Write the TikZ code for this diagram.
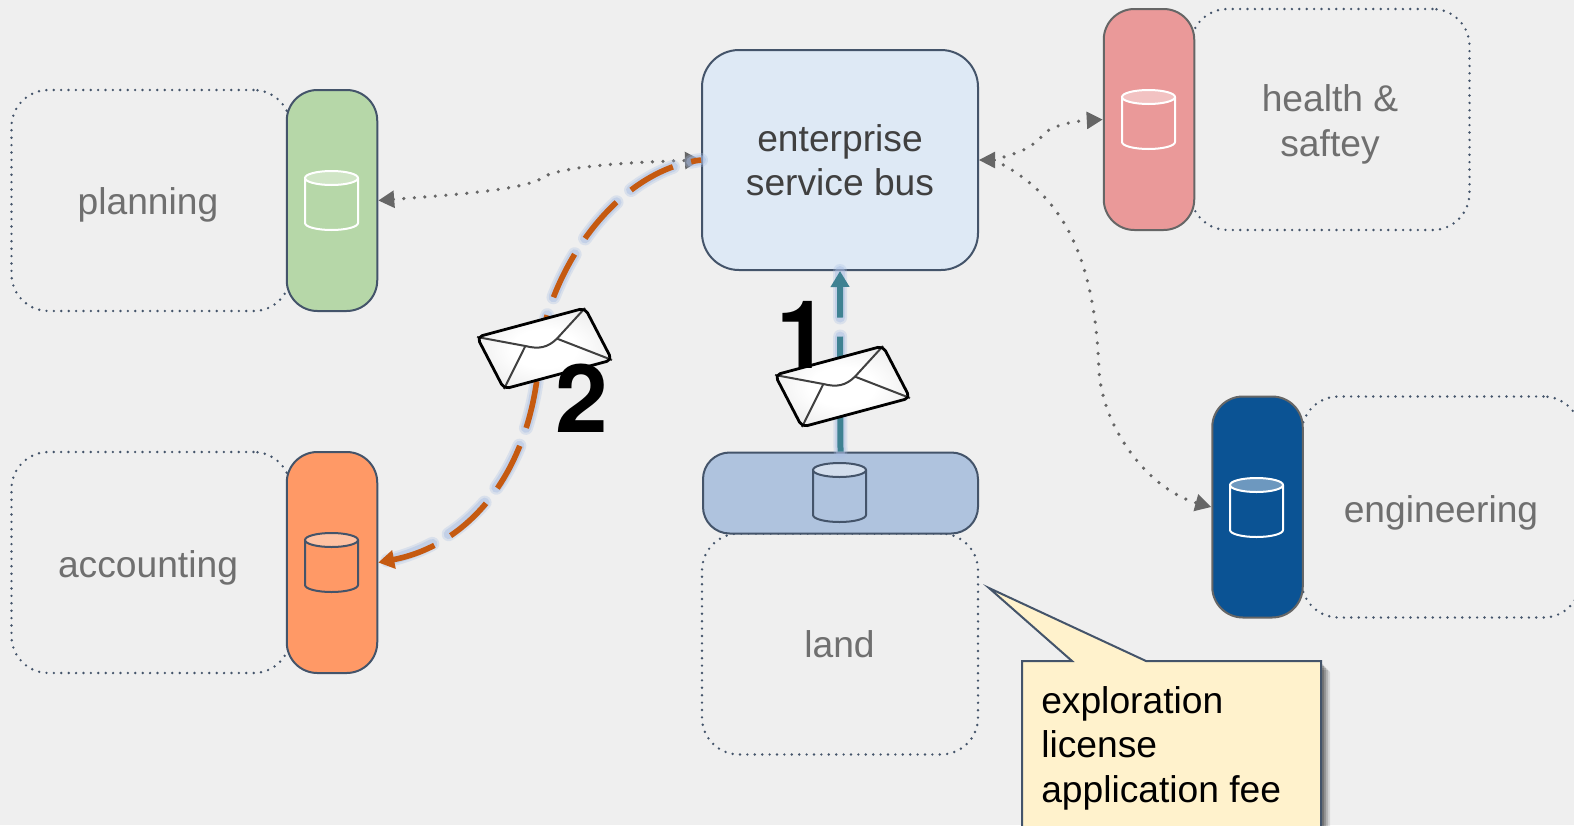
\documentclass[tikz,border=0pt]{standalone}
\usepackage{fontspec}
\setmainfont{Liberation Sans}
\newfontfamily\digitfont{TeX Gyre Heros}
\usetikzlibrary{arrows.meta,calc}
\definecolor{bgc}{HTML}{EFEFEF}
\definecolor{edgec}{HTML}{44546A}
\definecolor{greyc}{HTML}{666666}
\definecolor{labelc}{HTML}{6F6F6F}
\definecolor{esbc}{HTML}{DEE9F5}
\definecolor{greenc}{HTML}{B6D7A8}
\definecolor{orangec}{HTML}{FF9966}
\definecolor{pinkc}{HTML}{EA9999}
\definecolor{navyc}{HTML}{0B5394}
\definecolor{landc}{HTML}{AFC3DE}
\definecolor{notec}{HTML}{FFF2CC}
\definecolor{tealc}{HTML}{3F8292}
\definecolor{burntc}{HTML}{C55A11}
\definecolor{glowc}{HTML}{A9BEE4}
\def\pxu{0.75pt}
\pgfdeclareradialshading{envshade}{\pgfpoint{0bp}{0bp}}{color(0bp)=(white); color(12bp)=(white); color(28bp)=(black!7); color(40bp)=(black!16); color(55bp)=(black!27); color(100bp)=(black!27)}
\tikzset{
  labeltext/.style={font=\fontsize{27.9pt}{33.4pt}\selectfont,text=labelc,align=center,inner sep=0pt},
  digit/.style={font=\fontsize{71pt}{71pt}\digitfont\bfseries,text=black,inner sep=0pt},
  dotbox/.style={draw=edgec,line width=2pt,line cap=round,dash pattern=on 0pt off 5.55pt,rounded corners=27.75pt,minimum width=279*\pxu,minimum height=221*\pxu,inner sep=0pt},
  pill/.style={draw=edgec,line width=1.5pt,rounded corners=23pt,minimum width=90.5*\pxu,minimum height=221*\pxu,inner sep=0pt},
  dotlink/.style={draw=greyc,line width=2.7pt,line cap=round,dash pattern=on 0pt off 7.9pt},
  greytip/.style={draw=none,-{Triangle[length=12pt,width=12.5pt,fill=greyc]}},
}
\newcommand{\cyl}[4]{% left x, top y, stroke colour, cap fill
  \begin{scope}[shift={(#1,#2)}]
    \draw[#3,line width=1.5pt,line join=round] (0,7) -- (0,52) arc[start angle=180,end angle=0,x radius=26.5,y radius=7] -- (53,7);
    \draw[#3,fill=#4,line width=1.5pt] (26.5,7) ellipse[x radius=26.5,y radius=7];
  \end{scope}}
\newcommand{\envelope}[2]{%
  \begin{scope}[shift={(#1,#2)},x={(81pt,21.75pt)},y={(20.25pt,-39pt)}]
    \path[shading=envshade,rounded corners=4pt] (0,0) -- (1,0) -- (1,1) -- (0,1) -- cycle;
    \draw[black!75,line width=1.5pt] (0,0) -- (.355,.371) .. controls (.45,.49) and (.53,.5) .. (.643,.39) -- (1,0);
    \draw[black!75,line width=1.5pt] (.643,.39) -- (1,1);
    \draw[black!75,line width=1.5pt] (.355,.371) -- (0,1);
    \draw[black,line width=2.1pt,rounded corners=4pt] (0,0) -- (1,0) -- (1,1) -- (0,1) -- cycle;
  \end{scope}}
\begin{document}
\begin{tikzpicture}[x=0.75pt,y=-0.75pt]
\useasboundingbox (0,0) rectangle (1574,825);
\fill[bgc] (0,0) rectangle (1574,825);
\clip (0,0) rectangle (1574,825);

% dotted department boxes
\node[dotbox] (planbox) at (151,200.5) {};
\node[dotbox] (acctbox) at (151,562.5) {};
\node[dotbox,minimum width=276*\pxu] (landbox) at (840,644) {};
\node[dotbox] (hsbox) at (1330,119.5) {};
\node[dotbox] (engbox) at (1441,507) {};

% system pills
\node[pill,fill=greenc] (planp) at (332,200.5) {};
\node[pill,fill=orangec] (acctp) at (332,562.5) {};
\node[pill,fill=pinkc,draw=greyc] (hsp) at (1149,119.5) {};
\node[pill,fill=navyc,draw=greyc] (engp) at (1257.5,507) {};
\node[draw=edgec,line width=1.5pt,fill=landc,rounded corners=20pt,minimum width=275*\pxu,minimum height=81*\pxu,inner sep=0pt] (landp) at (840.5,493) {};
\node[draw=edgec,line width=1.5pt,fill=esbc,rounded corners=27.75pt,minimum width=276*\pxu,minimum height=220*\pxu,inner sep=0pt,font=\fontsize{27.9pt}{33.4pt}\selectfont,text=black!75,align=center] (esb) at (840,160) {enterprise\\service bus};

% labels
\node[labeltext] (t1) at (148,205) {planning};
\node[labeltext] (t2) at (148,568) {accounting};
\node[labeltext] (t3) at (839.5,644) {land};
\node[labeltext] (t4) at (1330,124.5) {health \&\\saftey};
\node[labeltext] (t5) at (1441,512.5) {engineering};

% cylinders
\cyl{305}{171}{white}{white!35!greenc}
\cyl{305}{533}{edgec}{white!40!orangec}
\cyl{813}{463}{edgec}{white!45!landc}
\cyl{1122}{90}{white}{white!40!pinkc}
\cyl{1230}{478}{white}{white!40!navyc}

% dotted links
\coordinate (hub) at (994,160);
\draw[dotlink,{Triangle[length=12pt,width=12.5pt,fill=greyc]}-{Triangle[length=12pt,width=12.5pt,fill=greyc]}] (planp.east) .. controls (450,195) and (530,190) .. (545,176) .. controls (570,165) and (640,162) .. (esb.west);
\draw[dotlink,-{Triangle[length=12pt,width=12.5pt,fill=greyc]}] (hub) .. controls (1020,152) and (1030,150) .. (1046,132) .. controls (1055,125) and (1075,121) .. (hsp.west);
\draw[dotlink,-{Triangle[length=12pt,width=12.5pt,fill=greyc]}] (hub) .. controls (1065,195) and (1095,260) .. (1099,371) .. controls (1103,430) and (1150,490) .. (engp.west);
\path[greytip,draw=greyc,line width=0pt] (hub) -- (esb.east);

% teal message arrow
\draw[glowc,opacity=.3,line width=10.5pt,line cap=round,dash pattern=on 36pt off 14.25pt] (landp.north) -- (esb.south);
\draw[glowc,opacity=.45,line width=7.5pt,line cap=round,dash pattern=on 36pt off 14.25pt] (landp.north) -- (esb.south);
\draw[tealc,line width=4.5pt,dash pattern=on 36pt off 14.25pt,-{Triangle[length=12pt,width=13.5pt,fill=tealc]}] (landp.north) -- (esb.south);

% orange message arrow
\draw[glowc,opacity=.3,line width=10.5pt,line cap=round,dash pattern=on 36pt off 14.25pt,dash phase=28.5pt] (esb.west) .. controls (620,170) and (555,260) .. (540,345) .. controls (535,470) and (470,545) .. (acctp.east);
\draw[glowc,opacity=.45,line width=7.5pt,line cap=round,dash pattern=on 36pt off 14.25pt,dash phase=28.5pt] (esb.west) .. controls (620,170) and (555,260) .. (540,345) .. controls (535,470) and (470,545) .. (acctp.east);
\draw[burntc,line width=4.2pt,dash pattern=on 36pt off 14.25pt,dash phase=28.5pt,-{Triangle[length=12pt,width=13.5pt,fill=burntc]}] (esb.west) .. controls (620,170) and (555,260) .. (540,345) .. controls (535,470) and (470,545) .. (acctp.east);

% envelopes
\envelope{775}{375}
\envelope{477}{337}

% digits
\node[digit] (one) at (802.5,335) {1};
\node[digit] (two) at (582,398) {2};

% callout
\foreach \s/\o in {9/.10,7/.14,5/.18,3/.22}{
  \fill[black,opacity=\o,rounded corners=2pt] (986+\s,585+\s) -- (1146+\s,661+\s) -- (1321+\s,661+\s) -- (1321+\s,840) -- (1022+\s,840) -- (1022+\s,661+\s) -- (1072+\s,661+\s) -- cycle;
}
\draw[edgec,fill=notec,line width=1.5pt,line join=miter] (989,588) -- (1146,661) -- (1321,661) -- (1321,840) -- (1022,840) -- (1022,661) -- (1072,661) -- cycle;
\node[anchor=base west,inner sep=0pt,font=\fontsize{27.9pt}{33.4pt}\selectfont,text=black] (n1) at (1041,713) {exploration};
\node[anchor=base west,inner sep=0pt,font=\fontsize{27.9pt}{33.4pt}\selectfont,text=black] (n2) at (1041,757) {license};
\node[anchor=base west,inner sep=0pt,font=\fontsize{27.9pt}{33.4pt}\selectfont,text=black] (n3) at (1041,802) {application fee};
\end{tikzpicture}
\end{document}
